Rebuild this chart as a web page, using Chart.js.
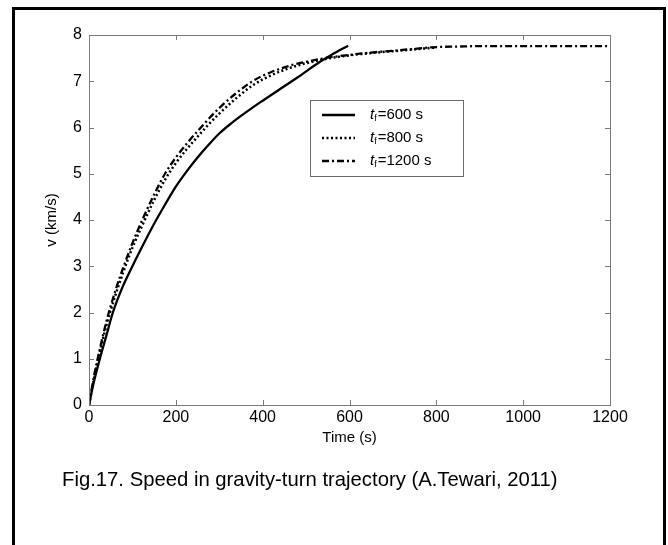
<!DOCTYPE html>
<html>
<head>
<meta charset="utf-8">
<script src="https://cdn.jsdelivr.net/npm/chart.js@4.4.1/dist/chart.umd.min.js"></script>
<style>
  html, body { margin: 0; padding: 0; background: #fff; }
  #wrap { position: relative; width: 668px; height: 545px; overflow: hidden; background: #fff; }
  #c { position: absolute; left: 0; top: 0; }
  #frame { position: absolute; left: 12px; top: 7px; width: 654px; height: 600px; box-sizing: border-box; border: 3px solid #000; pointer-events: none; }
  #caption { position: absolute; left: 62px; top: 468px; font-family: "Liberation Sans", Arial, sans-serif; font-size: 20.3px; color: #000; white-space: nowrap; }
</style>
</head>
<body>
<div id="wrap">
  <canvas id="c" width="668" height="545"></canvas>
  <div id="frame"></div>
  <div id="caption">Fig.17. Speed in gravity-turn trajectory (A.Tewari, 2011)</div>
</div>
<script>
// ---- data ----
const seriesNames = ["600 s", "800 s", "1200 s"];

const time600 = [0, 10, 25, 40, 55, 75, 100, 125, 150, 175, 200, 225, 250, 275, 300, 325, 350, 375, 400, 432, 480, 532, 560, 597];
const speed600 = [0, 0.45, 1.0, 1.5, 2.0, 2.5, 3.0, 3.47, 3.92, 4.33, 4.72, 5.05, 5.35, 5.62, 5.87, 6.07, 6.25, 6.42, 6.58, 6.78, 7.08, 7.42, 7.58, 7.77];

const time800 = [0, 10, 20, 40, 60, 80, 100, 125, 150, 175, 200, 225, 250, 275, 300, 340, 380, 420, 460, 500, 550, 600, 650, 700, 750, 800];
const speed800 = [0, 0.5, 0.95, 1.72, 2.35, 2.9, 3.4, 3.93, 4.43, 4.87, 5.23, 5.53, 5.8, 6.06, 6.3, 6.64, 6.93, 7.13, 7.28, 7.39, 7.49, 7.56, 7.61, 7.65, 7.69, 7.73];

const time1200 = [0, 10, 20, 40, 60, 80, 100, 125, 150, 175, 200, 225, 250, 275, 300, 340, 380, 420, 460, 500, 550, 600, 650, 700, 750, 800, 850, 900, 1000, 1100, 1200];
const speed1200 = [0, 0.55, 1.0, 1.8, 2.45, 3.0, 3.5, 4.05, 4.55, 5.0, 5.35, 5.65, 5.92, 6.18, 6.42, 6.75, 7.02, 7.2, 7.33, 7.42, 7.51, 7.57, 7.62, 7.66, 7.7, 7.74, 7.75, 7.76, 7.76, 7.76, 7.76];

const xTicks = [0, 200, 400, 600, 800, 1000, 1200];
const yTicks = [0, 1, 2, 3, 4, 5, 6, 7, 8];

const xTitle = "Time (s)";
const yTitle = "v (km/s)";

function pts(xs, ys) { return xs.map((x, i) => ({ x: x, y: ys[i] })); }

const FONT = '"Liberation Sans", Arial, sans-serif';
const AXIS_GRAY = '#7a7a7a';

const dashes = [[], [2, 2.5], [7, 3, 2, 3]];
const widths = [2.3, 2.5, 2.3];

const framePlugin = {
  id: 'framePlugin',
  afterDatasetsDraw(chart) {
    const ctx = chart.ctx;
    const a = chart.chartArea;
    const xs = chart.scales.x, ys = chart.scales.y;
    ctx.save();
    // box
    ctx.strokeStyle = AXIS_GRAY;
    ctx.lineWidth = 1;
    ctx.setLineDash([]);
    ctx.strokeRect(Math.round(a.left) + 0.5, Math.round(a.top) + 0.5, Math.round(a.right - a.left), Math.round(a.bottom - a.top));
    // inward ticks
    const L = 5;
    ctx.beginPath();
    xTicks.forEach(v => {
      const px = Math.round(xs.getPixelForValue(v)) + 0.5;
      ctx.moveTo(px, a.bottom); ctx.lineTo(px, a.bottom - L);
      ctx.moveTo(px, a.top); ctx.lineTo(px, a.top + L);
    });
    yTicks.forEach(v => {
      const py = Math.round(ys.getPixelForValue(v)) + 0.5;
      ctx.moveTo(a.left, py); ctx.lineTo(a.left + L, py);
      ctx.moveTo(a.right, py); ctx.lineTo(a.right - L, py);
    });
    ctx.stroke();

    // axis titles
    ctx.fillStyle = '#000';
    ctx.font = '15px ' + FONT;
    ctx.textAlign = 'center';
    ctx.textBaseline = 'middle';
    ctx.fillText(xTitle, (a.left + a.right) / 2, a.bottom + 33);
    ctx.save();
    ctx.translate(52, (a.top + a.bottom) / 2);
    ctx.rotate(-Math.PI / 2);
    ctx.fillText(yTitle, 0, 0);
    ctx.restore();

    // legend
    const bx = 310, by = 100, bw = 153, bh = 76;
    ctx.fillStyle = '#fff';
    ctx.fillRect(bx, by, bw, bh);
    ctx.strokeStyle = '#6a6a6a';
    ctx.lineWidth = 1;
    ctx.strokeRect(bx + 0.5, by + 0.5, bw, bh);
    const rows = [115, 138, 161];
    chart.data.datasets.forEach((ds, i) => {
      const y = rows[i];
      ctx.strokeStyle = '#000';
      ctx.lineWidth = ds.borderWidth;
      ctx.setLineDash(ds.borderDash || []);
      ctx.beginPath();
      ctx.moveTo(322, y); ctx.lineTo(355, y);
      ctx.stroke();
      ctx.setLineDash([]);
      ctx.fillStyle = '#000';
      ctx.textAlign = 'left';
      ctx.textBaseline = 'middle';
      ctx.font = 'italic 15px ' + FONT;
      let x = 370;
      ctx.fillText('t', x, y);
      x += ctx.measureText('t').width;
      ctx.font = '9px ' + FONT;
      ctx.fillText('f', x, y + 4);
      x += ctx.measureText('f').width + 1;
      ctx.font = '15px ' + FONT;
      ctx.fillText('=' + seriesNames[i], x, y);
    });
    ctx.restore();
  }
};

const chart = new Chart(document.getElementById('c'), {
  type: 'line',
  data: {
    datasets: [
      { label: seriesNames[0], data: pts(time600, speed600) },
      { label: seriesNames[1], data: pts(time800, speed800) },
      { label: seriesNames[2], data: pts(time1200, speed1200) }
    ].map((d, i) => Object.assign(d, {
      borderColor: '#000',
      backgroundColor: '#000',
      borderWidth: widths[i],
      borderDash: dashes[i],
      pointRadius: 0,
      fill: false,
      cubicInterpolationMode: 'monotone'
    }))
  },
  options: {
    responsive: false,
    animation: false,
    events: [],
    layout: { padding: { left: 0, top: 35, right: 58, bottom: 100 } },
    plugins: { legend: { display: false }, tooltip: { enabled: false } },
    scales: {
      x: {
        type: 'linear',
        min: 0, max: 1200,
        afterFit(s) { s.height = 40; },
        afterBuildTicks(s) { s.ticks = xTicks.map(v => ({ value: v })); },
        grid: { display: false, drawTicks: false },
        border: { display: false },
        ticks: { color: '#000', font: { family: FONT, size: 16 }, padding: 3, maxRotation: 0, callback: v => String(v) }
      },
      y: {
        type: 'linear',
        min: 0, max: 8,
        afterFit(s) { s.width = 89; },
        afterBuildTicks(s) { s.ticks = yTicks.map(v => ({ value: v })); },
        grid: { display: false, drawTicks: false },
        border: { display: false },
        ticks: { color: '#000', font: { family: FONT, size: 16 }, padding: 7, callback: v => String(v) }
      }
    }
  },
  plugins: [framePlugin]
});
</script>
</body>
</html>
